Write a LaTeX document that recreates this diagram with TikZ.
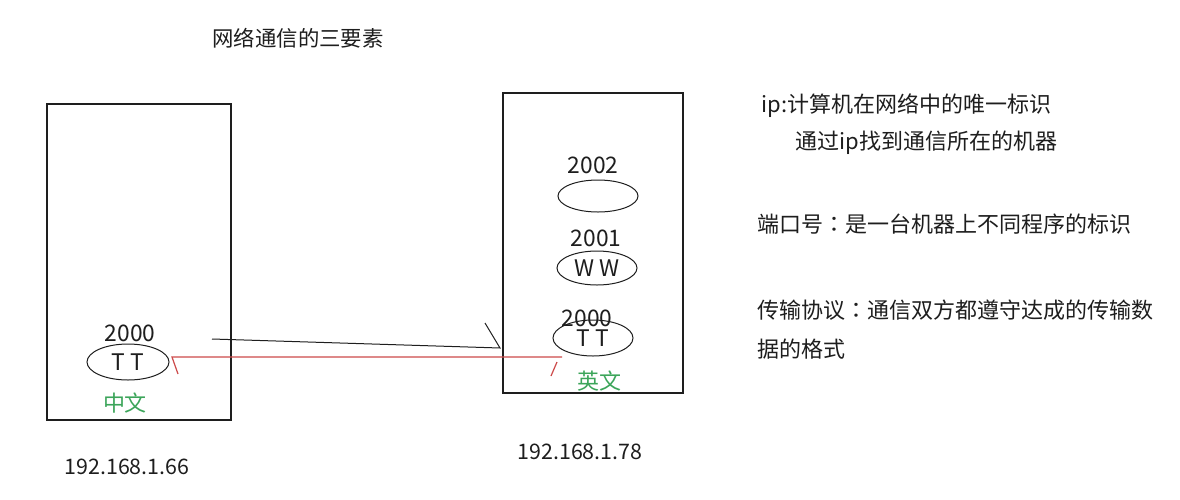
\documentclass[tikz,border=0pt]{standalone}
\usepackage{fontspec}
\setmainfont{Noto Sans CJK SC}
\newfontfamily\cjktc{Noto Sans CJK TC}
\usetikzlibrary{shapes.geometric}
\definecolor{tgreen}{RGB}{60,165,90}
\definecolor{tred}{RGB}{205,75,75}
\definecolor{tink}{RGB}{30,30,30}
\begin{document}
\begin{tikzpicture}[x=0.5pt,y=-0.5pt,
  hostbox/.style={draw=tink,line width=0.7pt,rectangle,inner sep=0pt},
  portlbl/.style={font=\fontsize{11.4}{13}\selectfont,text=tink,inner sep=0pt},
  prog/.style={draw=tink,line width=0.5pt,ellipse,inner sep=0pt,font=\fontsize{11.4}{13}\selectfont,text=tink},
  lang/.style={font=\fontsize{11}{13}\selectfont,text=tgreen,inner sep=0pt},
  note/.style={font=\fontsize{11}{13}\selectfont,text=tink,inner sep=0pt,anchor=west},
  iplbl/.style={font=\fontsize{10.7}{13}\selectfont,text=tink,inner sep=0pt},
  wire/.style={draw=tink,line width=0.5pt},
  redwire/.style={draw=tred,line width=0.6pt}]
\useasboundingbox (0,0) rectangle (1180,499);
\fill[white] (0,0) rectangle (1180,499);

\node[font=\fontsize{10.7}{13}\selectfont,text=tink,inner sep=0pt] (title) at (298,38) {网络通信的三要素};

% left host
\node[hostbox,minimum width=92pt,minimum height=158pt] (lbox) at (139,262) {};
\node[portlbl] (l2000) at (130,333) {2000};
\node[prog,minimum width=41pt,minimum height=18pt] (ltt) at (128,362) {T T};
\node[lang] (zh) at (125,403) {中文};
\node[iplbl] (lip) at (127,467) {192.168.1.66};

% right host
\node[hostbox,minimum width=90pt,minimum height=150pt] (rbox) at (593,243) {};
\node[portlbl] (r2002) at (593,165) {2002};
\node[prog,minimum width=40pt,minimum height=16pt] (e2002) at (598,196) {};
\node[portlbl] (r2001) at (596,238) {2001};
\node[prog,minimum width=40pt,minimum height=17pt] (ww) at (597,268) {W W};
\node[portlbl] (r2000) at (587,318) {2000};
\node[prog,minimum width=40pt,minimum height=18pt] (rtt) at (593,338) {T T};
\node[lang] (en) at (599,381) {英文};
\node[iplbl] (rip) at (580,452) {192.168.1.78};

% connectors
\coordinate (bs) at (212,339);
\coordinate (be) at (500,348);
\coordinate (bt) at (485,323);
\draw[wire] (bs) -- (be) -- (bt);

\coordinate (rs) at (172,357);
\coordinate (re) at (562,357);
\coordinate (rst) at (178,374);
\coordinate (ret1) at (557,362);
\coordinate (ret2) at (551,376);
\draw[redwire] (rst) -- (rs) -- (re);
\draw[redwire] (ret1) -- (ret2);

% notes
\node[note] (n1) at (761,106) {ip:计算机在网络中的唯一标识};
\node[note] (n2) at (795,143) {通过ip找到通信所在的机器};
\node[note] (n3) at (757,224) {端口号{\cjktc ：}是一台机器上不同程序的标识};
\node[note] (n4) at (757,310) {传输协议{\cjktc ：}通信双方都遵守达成的传输数};
\node[note] (n5) at (757,349) {据的格式};
\end{tikzpicture}
\end{document}
